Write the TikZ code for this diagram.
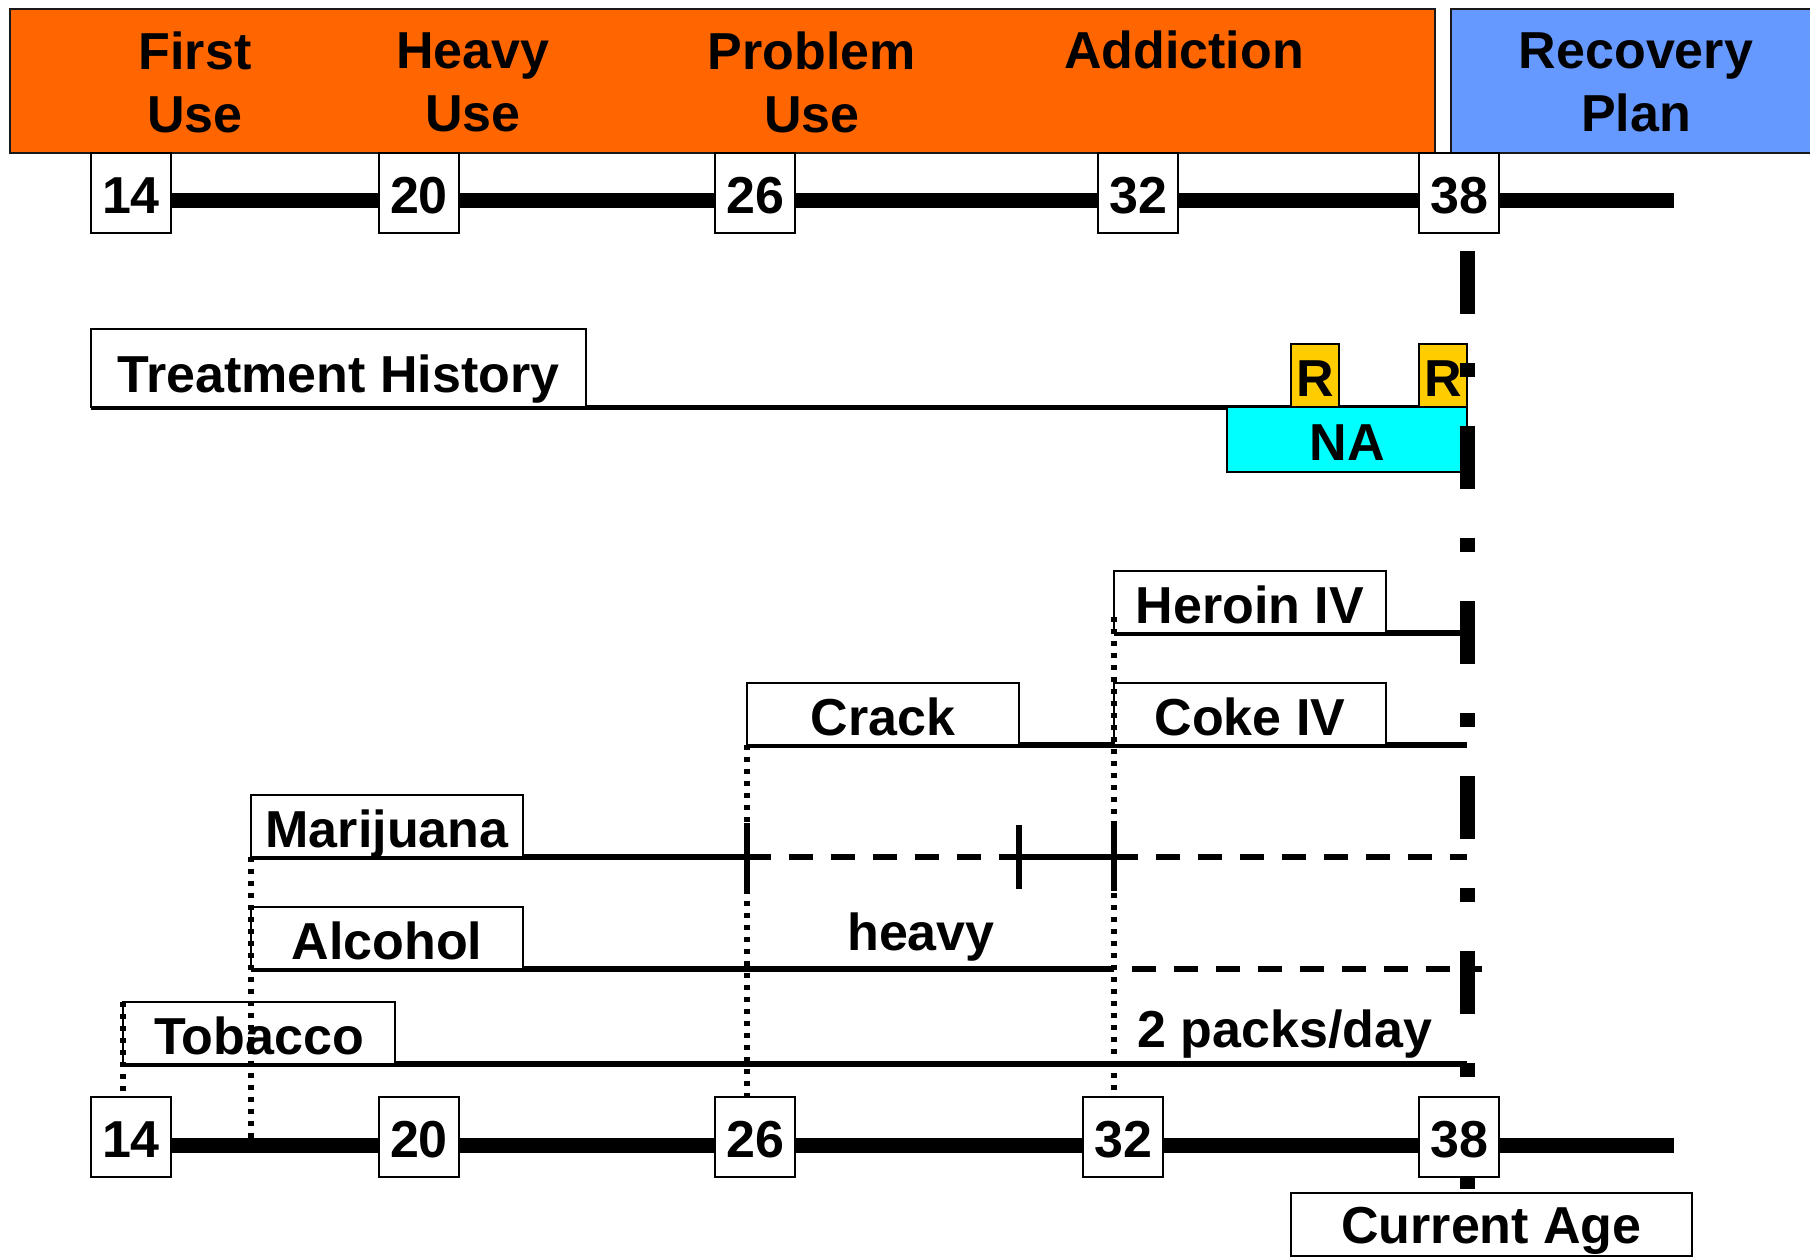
\documentclass[tikz,border=0pt]{standalone}
\usepackage{fontspec}
\setmainfont{Liberation Sans}
\usepackage{xcolor}
\usetikzlibrary{backgrounds}
\definecolor{phaseorange}{HTML}{FF6600}
\definecolor{planblue}{HTML}{6699FF}
\definecolor{relapsegold}{HTML}{FFCC00}
\definecolor{meetcyan}{HTML}{00FFFF}
\begin{document}
\begin{tikzpicture}[x=1pt, y=-1pt, every node/.style={font=\fontsize{52}{63}\selectfont\bfseries, inner sep=0pt, outer sep=0pt}, phase/.style={draw=black!90, line width=2.5pt}, head/.style={align=center}, age/.style={draw, fill=white, line width=2pt, minimum width=80pt, minimum height=80pt, text height=40.5pt, text depth=0pt}, tag/.style={draw, fill=white, line width=2pt, minimum width=272pt, minimum height=62pt, text height=46pt, text depth=4pt, anchor=south west}, flag/.style={draw, fill=relapsegold, line width=2pt, minimum width=48pt, minimum height=63pt, text height=41pt, text depth=0pt, anchor=south west}, axis/.style={line width=15pt}, use/.style={line width=5.5pt}, gap/.style={use, dash pattern=on 24pt off 18pt}, trace/.style={line width=5.5pt, dash pattern=on 5pt off 7pt}, now/.style={line width=15pt, dash pattern=on 63pt off 49pt on 14pt off 49pt}]
\useasboundingbox (0,0) rectangle (1810,1257);
\draw[phase, fill=phaseorange] (10,9) rectangle (1435,153);
\draw[phase, fill=planblue] (1451,9) rectangle (1813,153);
\node[head] (first) at (195,82) {First\\Use};
\node[head] (heavyuse) at (473,82) {Heavy\\Use};
\node[head] (problem) at (812,82) {Problem\\Use};
\node[anchor=base] (addict) at (1184,69) {Addiction};
\node[head] (plan) at (1636,82) {Recovery\\Plan};
\coordinate (topend) at (1674,201);
\coordinate (botend) at (1674,1145);
\coordinate (nowtop) at (1467,251);
\coordinate (nowbot) at (1467,1257);
\foreach \a/\x in {14/131,20/419,26/755,32/1138,38/1459} \node[age] (top\a) at (\x,193) {\a};
\node[draw, fill=white, line width=2pt, minimum width=495pt, minimum height=78pt, text height=48pt, text depth=0pt, anchor=south west] (hist) at (91,407) {Treatment History};
\node[flag] (r1) at (1291,407) {R};
\node[flag] (r2) at (1419,407) {R};
\node[draw, fill=meetcyan, line width=2pt, minimum width=240pt, minimum height=65pt, text height=42pt, text depth=0pt, anchor=north west] (na) at (1227,407) {NA};
\node[tag] (heroin) at (1114,633) {Heroin IV};
\node[tag] (crack) at (747,745) {Crack};
\node[tag] (coke) at (1114,745) {Coke IV};
\node[tag] (mj) at (251,857) {Marijuana};
\node[tag] (alc) at (251,969) {Alcohol};
\node[tag] (tob) at (123,1064) {Tobacco};
\node[anchor=base] (heavy) at (921,950) {heavy};
\node[anchor=base] (packs) at (1285,1047) {2 packs/day};
\draw[now] (nowtop) -- (nowbot);
\foreach \a/\x in {14/131,20/419,26/755,32/1123,38/1459} \node[age] (bot\a) at (\x,1137) {\a};
\node[draw, fill=white, line width=2pt, minimum width=401pt, minimum height=63pt, text height=37.5pt, text depth=0pt, anchor=north west] (current) at (1291,1193) {Current Age};
\draw[trace] ([yshift=16pt]heroin.south west) -- (heroin.south west |- bot32.north); \draw[trace] (crack.south west) -- (crack.south west |- bot26.north);
\draw[trace] (mj.south west) -- (mj.south west |- botend); \draw[trace] (tob.north west) -- (tob.north west |- bot14.north);
\begin{scope}[on background layer]
\draw[axis] (top14.center |- topend) -- (topend); \draw[axis] (bot14.center |- botend) -- (botend);
\draw[line width=5pt] (hist.south west) -- (hist.south west -| nowtop);
\draw[use] (heroin.south west) -- (heroin.south west -| nowtop); \draw[use] (crack.south west) -- (crack.south west -| nowtop);
\draw[use] (mj.south west) -- (mj.south west -| crack.south west); \draw[gap] (mj.south west -| crack.south west) -- (mj.south west -| crack.south east);
\draw[use] (mj.south west -| crack.south east) -- (mj.south west -| coke.south west); \draw[gap] (mj.south west -| coke.south west) -- (mj.south west -| nowtop);
\draw[use] ([yshift=34pt]mj.south west -| crack.south west) -- ([yshift=-34pt]mj.south west -| crack.south west);
\draw[use] ([yshift=32pt]mj.south west -| crack.south east) -- ([yshift=-32pt]mj.south west -| crack.south east);
\draw[use] ([yshift=34pt]mj.south west -| coke.south west) -- ([yshift=-34pt]mj.south west -| coke.south west);
\draw[use] (alc.south west) -- (alc.south west -| coke.south west); \draw[gap, dash phase=24pt] (alc.south west -| coke.south west) -- ([xshift=15pt]alc.south west -| nowtop);
\draw[use] (tob.south west) -- (tob.south west -| nowtop);
\end{scope}
\end{tikzpicture}
\end{document}
